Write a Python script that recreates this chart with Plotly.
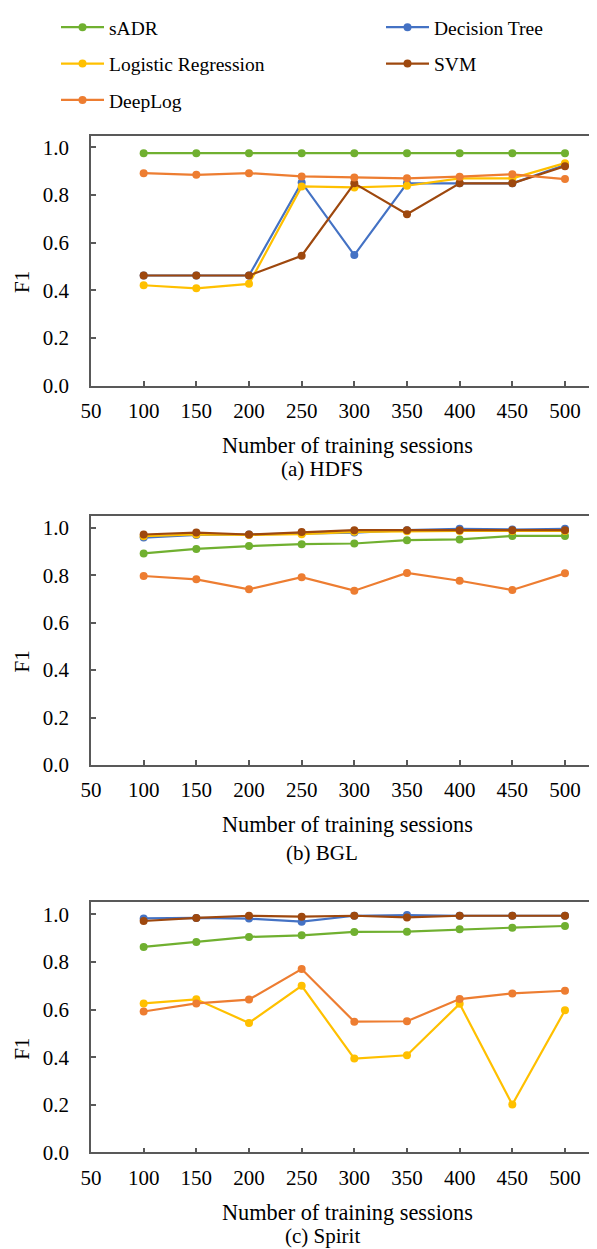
import plotly.graph_objects as go

# ---------------- data ----------------
sessions = [100, 150, 200, 250, 300, 350, 400, 450, 500]
x_ticks = [50, 100, 150, 200, 250, 300, 350, 400, 450, 500]
y_ticks = [0.0, 0.2, 0.4, 0.6, 0.8, 1.0]
y_ticktext = ["0.0", "0.2", "0.4", "0.6", "0.8", "1.0"]

methods = ["sADR", "Decision Tree", "Logistic Regression", "SVM", "DeepLog"]
colors = ["#70B030", "#4472C4", "#FFC000", "#9E480E", "#ED7D31"]

hdfs_sadr = [0.976, 0.976, 0.976, 0.976, 0.976, 0.976, 0.976, 0.976, 0.976]
hdfs_dt = [0.462, 0.462, 0.462, 0.853, 0.548, 0.849, 0.849, 0.849, 0.926]
hdfs_lr = [0.421, 0.408, 0.427, 0.836, 0.832, 0.839, 0.870, 0.870, 0.934]
hdfs_svm = [0.462, 0.462, 0.462, 0.545, 0.849, 0.719, 0.849, 0.849, 0.921]
hdfs_deeplog = [0.892, 0.885, 0.892, 0.878, 0.874, 0.870, 0.877, 0.887, 0.867]

bgl_sadr = [0.892, 0.911, 0.923, 0.931, 0.934, 0.948, 0.951, 0.966, 0.966]
bgl_dt = [0.959, 0.970, 0.972, 0.976, 0.980, 0.990, 0.996, 0.993, 0.996]
bgl_lr = [0.965, 0.972, 0.970, 0.973, 0.983, 0.986, 0.987, 0.987, 0.987]
bgl_svm = [0.972, 0.980, 0.972, 0.982, 0.990, 0.990, 0.990, 0.990, 0.990]
bgl_deeplog = [0.797, 0.783, 0.741, 0.792, 0.735, 0.810, 0.777, 0.738, 0.808]

spirit_sadr = [0.863, 0.884, 0.905, 0.912, 0.926, 0.927, 0.937, 0.944, 0.951]
spirit_dt = [0.983, 0.985, 0.982, 0.969, 0.994, 0.997, 0.994, 0.994, 0.994]
spirit_lr = [0.626, 0.643, 0.544, 0.700, 0.394, 0.408, 0.624, 0.201, 0.597]
spirit_svm = [0.972, 0.985, 0.994, 0.990, 0.994, 0.987, 0.994, 0.994, 0.994]
spirit_deeplog = [0.592, 0.626, 0.642, 0.770, 0.549, 0.551, 0.644, 0.668, 0.679]

panels = [
    ("(a) HDFS", [hdfs_sadr, hdfs_dt, hdfs_lr, hdfs_svm, hdfs_deeplog]),
    ("(b) BGL", [bgl_sadr, bgl_dt, bgl_lr, bgl_svm, bgl_deeplog]),
    ("(c) Spirit", [spirit_sadr, spirit_dt, spirit_lr, spirit_svm, spirit_deeplog]),
]

# ---------------- layout geometry (pixels) ----------------
W, H = 597, 1249
FONT = "Liberation Serif, Times New Roman, serif"
AXIS_COL = "#595959"
plot_left = 83
bottoms = [374, 755, 1144]
tops = [123, 505, 893]
caption_offsets = [84, 88, 84]
legend_cols = {"sADR": "legend", "Logistic Regression": "legend", "DeepLog": "legend",
               "Decision Tree": "legend2", "SVM": "legend2"}


def px_x(p):
    return p / W


def px_y(p):
    return 1 - p / H


fig = go.Figure()
layout = dict(
    width=W, height=H,
    margin=dict(l=0, r=0, t=0, b=0),
    paper_bgcolor="white", plot_bgcolor="white",
    font=dict(family=FONT, size=21, color="black"),
    template="none",
    annotations=[],
)

for i, (caption, series) in enumerate(panels):
    n = "" if i == 0 else str(i + 1)
    for m, c, vals in zip(methods, colors, series):
        fig.add_trace(go.Scatter(
            x=sessions, y=vals, name=m, mode="lines+markers",
            line=dict(color=c, width=2.2),
            marker=dict(color=c, size=8),
            xaxis="x" + n, yaxis="y" + n,
            legendgroup=m, showlegend=(i == 0), legend=legend_cols[m],
        ))
    layout["xaxis" + n] = dict(
        domain=[px_x(plot_left), 1.0], range=[50, 538], anchor="y" + n,
        tickmode="array", tickvals=x_ticks, ticktext=[str(t) for t in x_ticks],
        ticks="inside", ticklen=5, tickwidth=1.5, tickcolor=AXIS_COL,
        showline=True, linecolor=AXIS_COL, linewidth=1.8, mirror=True,
        showgrid=False, zeroline=False, automargin=False,
        tickfont=dict(size=21, family=FONT, color="black"),
        ticklabelstandoff=5,
    )
    layout["yaxis" + n] = dict(
        domain=[px_y(bottoms[i]), px_y(tops[i])], range=[0, 1.05], anchor="x" + n,
        tickmode="array", tickvals=y_ticks, ticktext=y_ticktext,
        ticks="inside", ticklen=5, tickwidth=1.5, tickcolor=AXIS_COL,
        showline=True, linecolor=AXIS_COL, linewidth=1.8, mirror=False,
        showgrid=False, zeroline=False, automargin=False,
        tickfont=dict(size=21, family=FONT, color="black"),
        ticklabelstandoff=16,
    )
    b = bottoms[i]
    layout["annotations"] += [
        dict(text="F1", x=px_x(14), y=px_y(b - 104), xref="paper", yref="paper",
             textangle=-90, showarrow=False, font=dict(size=21, family=FONT),
             xanchor="center", yanchor="middle"),
        dict(text="Number of training sessions", x=px_x(340), y=px_y(b + 60),
             xref="paper", yref="paper", showarrow=False,
             font=dict(size=22.3, family=FONT), xanchor="center", yanchor="middle"),
        dict(text=caption, x=px_x(314), y=px_y(b + caption_offsets[i]),
             xref="paper", yref="paper",
             showarrow=False, font=dict(size=21, family=FONT),
             xanchor="center", yanchor="middle", borderpad=0),
    ]

legend_common = dict(
    orientation="v", yanchor="top", xanchor="left",
    font=dict(size=19.5, family=FONT, color="black"),
    tracegroupgap=8, itemwidth=43, bgcolor="rgba(0,0,0,0)", borderwidth=0,
    itemsizing="trace",
)
layout["legend"] = dict(x=px_x(48), y=1 + 5 / H, **legend_common)
layout["legend2"] = dict(x=px_x(373), y=1 + 5 / H, **legend_common)

fig.update_layout(**layout)
fig.write_html("out.html")
